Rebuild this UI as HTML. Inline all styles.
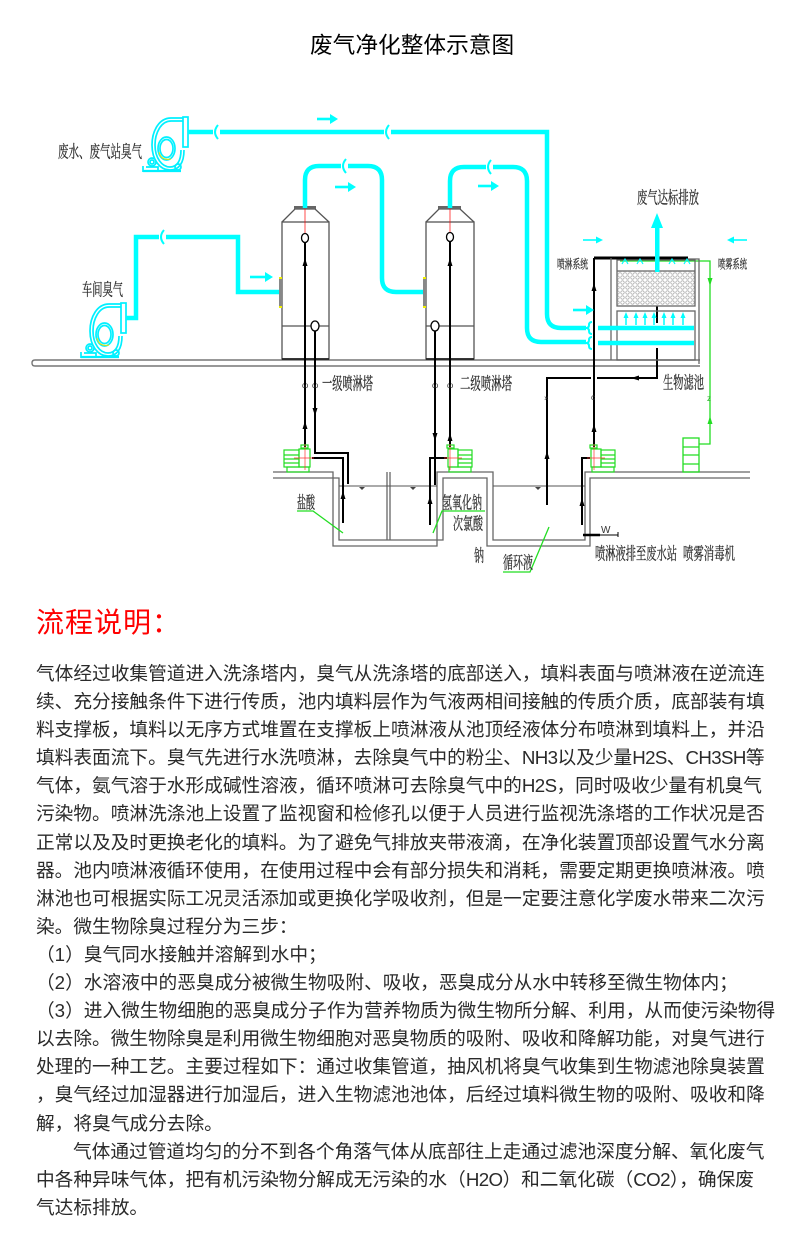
<!DOCTYPE html>
<html><head><meta charset="utf-8">
<style>
html,body{margin:0;padding:0;background:#fff;}
body{width:800px;height:1252px;position:relative;overflow:hidden;}
svg{position:absolute;left:0;top:0;}
.title{position:absolute;left:310px;top:31px;line-height:28px;font-size:22.7px;font-family:"Liberation Sans","Noto Sans CJK SC",sans-serif;color:#000;white-space:nowrap;}
.head{position:absolute;left:36px;top:605px;line-height:36px;font-size:28px;font-family:"Liberation Sans","Noto Sans CJK SC",sans-serif;color:#ff0000;white-space:nowrap;letter-spacing:1px;}
.para{position:absolute;left:36px;top:660px;width:760px;font-size:18.7px;line-height:28.1px;font-family:"Liberation Sans","Noto Sans CJK SC",sans-serif;color:#2a2a2a;}
.para div{white-space:nowrap;height:28.1px;}
.para span{font-size:18.7px;letter-spacing:-0.6px;}
</style></head>
<body>
<svg width="800" height="600" viewBox="0 0 800 600">
<defs>
<pattern id="pk" width="5" height="5" patternUnits="userSpaceOnUse"><circle cx="2.5" cy="2.5" r="1.7" fill="none" stroke="#999" stroke-width="0.6"/></pattern>
</defs>

<!-- floor -->
<path d="M700 360 H35 Q32 360 32 363 Q32 366 35 366 H700" fill="none" stroke="#777" stroke-width="1.4"/>

<!-- pits -->
<g fill="none" stroke="#666" stroke-width="1.3">
<path d="M273 472 H333 V546 H437 V472 H493 V540 H585 V472 H750"/>
<path d="M273 478 H339 V540 H443 V478 H487 V546 H590 V478 H750"/>
<path d="M387 472 V540 M390 472 V540"/>
</g>
<g stroke="#555" stroke-width="1">
<path d="M339 486 H437 M493 486 H585"/>
</g>
<g fill="#444">
<polygon points="359,487 365,487 362,490"/>
<polygon points="410,487 416,487 413,490"/>
<polygon points="535,487 541,487 538,490"/>
</g>

<!-- fans -->
<g>
<g fill="none" stroke="#00f0ff" stroke-width="1.7">
<path d="M183 118 H171 C159 118 152 131 152 145 C152 160 160 170 170 170 C179 170 184 163 184 150"/>
<path d="M183 121 H171 C161 121 155 133 155 145 C155 158 162 167 170 167 C177 167 181 161 181 150"/>
<ellipse cx="166.5" cy="148.5" rx="8.5" ry="11.5"/>
<ellipse cx="166.5" cy="148.5" rx="6.5" ry="9"/>
<rect x="183" y="117" width="5" height="30"/>
<circle cx="152" cy="162" r="4"/>
<circle cx="152" cy="162" r="2"/>
<circle cx="178" cy="167" r="3"/>
<path d="M146 167 H158 V170"/>
<path d="M143 166 V172"/>
</g>
<path d="M143 171 H181" stroke="#00f0ff" stroke-width="2.2"/>
<path d="M159 152 Q161 161 171 159" stroke="#e8e000" stroke-width="1" fill="none"/>
</g>
<g transform="translate(-62,186)">
<g fill="none" stroke="#00f0ff" stroke-width="1.7">
<path d="M183 118 H171 C159 118 152 131 152 145 C152 160 160 170 170 170 C179 170 184 163 184 150"/>
<path d="M183 121 H171 C161 121 155 133 155 145 C155 158 162 167 170 167 C177 167 181 161 181 150"/>
<ellipse cx="166.5" cy="148.5" rx="8.5" ry="11.5"/>
<ellipse cx="166.5" cy="148.5" rx="6.5" ry="9"/>
<rect x="183" y="117" width="5" height="30"/>
<circle cx="152" cy="162" r="4"/>
<circle cx="152" cy="162" r="2"/>
<circle cx="178" cy="167" r="3"/>
<path d="M146 167 H158 V170"/>
<path d="M143 166 V172"/>
</g>
<path d="M143 171 H181" stroke="#00f0ff" stroke-width="2.2"/>
<path d="M159 152 Q161 161 171 159" stroke="#e8e000" stroke-width="1" fill="none"/>
</g>

<!-- towers -->
<g fill="none" stroke="#555" stroke-width="1.3">
<rect x="282" y="222" width="47" height="137"/>
<path d="M282 222 L295 209 H315 L329 222"/>
<path d="M282 326 H329"/>
<rect x="426" y="222" width="48" height="137"/>
<path d="M426 222 L439 209 H460 L474 222"/>
<path d="M426 326 H474"/>
</g>
<path d="M282 359 H329 M426 359 H474" stroke="#222" stroke-width="1.8"/>
<rect x="294" y="206" width="22" height="3" fill="#666"/>
<rect x="438" y="206" width="23" height="3" fill="#666"/>
<path d="M305 209 V234 M450 209 V233" stroke="#f00" stroke-width="0.7"/>
<rect x="279" y="278" width="3" height="29" fill="#888"/>
<rect x="423" y="278" width="3" height="29" fill="#888"/>
<g fill="#ee0"><rect x="279" y="277" width="3" height="2"/><rect x="279" y="306" width="3" height="2"/><rect x="423" y="277" width="3" height="2"/><rect x="423" y="306" width="3" height="2"/></g>

<!-- black water pipes -->
<g fill="none" stroke="#000" stroke-width="2">
<path d="M305 242 V447"/>
<path d="M315 331 V453 H348 V484"/>
<path d="M312 458 H343 V523"/>
<path d="M450 241 V447"/>
<path d="M435 331 V485"/>
<path d="M447 458 H430 V525"/>
<path d="M657 348 V378 H547 V505"/>
<path d="M590 458 H582 V525"/>
<path d="M657 306 V323"/>
</g>
<rect x="591" y="374" width="6" height="8" fill="#fff"/>
<path d="M594 447 V258" stroke="#000" stroke-width="2"/>
<path d="M594 258 H688" stroke="#000" stroke-width="3"/>
<path d="M583 535 H600" stroke="#000" stroke-width="2.5"/>
<path d="M600 535 H618 M618 532 V537" stroke="#000" stroke-width="1"/>
<g fill="#fff" stroke="#000" stroke-width="1.3">
<ellipse cx="305" cy="238" rx="3.5" ry="4.5"/>
<ellipse cx="315" cy="326" rx="4" ry="5"/>
<ellipse cx="450" cy="237" rx="3.5" ry="4.5"/>
<ellipse cx="435" cy="326" rx="4" ry="5"/>
</g>
<!-- black arrowheads -->
<g fill="#000">
<polygon points="302.5,266 305,258 307.5,266"/>
<polygon points="302.5,429 305,421 307.5,429"/>
<polygon points="312.5,408 315,416 317.5,408"/>
<polygon points="340.5,499 343,491 345.5,499"/>
<polygon points="447.5,266 450,258 452.5,266"/>
<polygon points="447.5,441 450,433 452.5,441"/>
<polygon points="432.5,433 435,441 437.5,433"/>
<polygon points="427.5,504 430,496 432.5,504"/>
<polygon points="544.5,459 547,451 549.5,459"/>
<polygon points="579.5,506 582,498 584.5,506"/>
<polygon points="591.5,432 594,424 596.5,432"/>
<polygon points="591.5,291 594,283 596.5,291"/>
<polygon points="639,375.5 631,378 639,380.5"/>
</g>
<g font-family="Liberation Sans,sans-serif" fill="#333" font-size="8">
<text x="302" y="388">ω</text><text x="312" y="388">ω</text>
<text x="432" y="388">ω</text><text x="447" y="388">ω</text>
<text x="544" y="401">×</text><text x="591" y="400">c</text>
<text x="601" y="533" font-size="10">W</text>
</g>

<!-- pumps -->
<g fill="none" stroke="#22dd22" stroke-width="1.2">
<rect x="284" y="450" width="15" height="17"/><path d="M284 455 H299 M284 459 H299 M284 463 H299"/>
<rect x="299" y="449" width="11" height="18"/><rect x="287" y="467" width="22" height="5"/><rect x="301" y="445" width="7" height="3"/>
<rect x="458" y="450" width="14" height="17"/><path d="M458 455 H472 M458 459 H472 M458 463 H472"/>
<rect x="448" y="449" width="10" height="18"/><rect x="449" y="467" width="22" height="5"/><rect x="447" y="445" width="7" height="3"/>
<rect x="601" y="450" width="14" height="17"/><path d="M601 455 H615 M601 459 H615 M601 463 H615"/>
<rect x="591" y="449" width="10" height="18"/><rect x="592" y="467" width="22" height="5"/><rect x="590" y="445" width="7" height="3"/>
</g>
<g stroke="#f33" stroke-width="0.7">
<path d="M294 458 H314 M305 444 V470"/>
<path d="M444 458 H462 M450 444 V470"/>
<path d="M587 458 H605 M594 444 V470"/>
</g>

<!-- humidifier + green line -->
<g fill="none" stroke="#22dd22" stroke-width="1.3">
<rect x="683" y="438" width="16" height="34"/>
<path d="M683 447 H699 M683 455 H699 M683 464 H699"/>
<path d="M699 444 H710 V261 H620"/>
<path d="M297 511 H313 L343 533"/>
<path d="M485 511 H442 L433 533"/>
<path d="M503 572 H530 L549 527"/>
</g>
<g fill="#22dd22">
<polygon points="707.5,424 710,416 712.5,424"/>
<polygon points="707.5,278 710,286 712.5,278"/>
</g>
<text x="707" y="401" font-family="Liberation Sans,sans-serif" font-size="8" fill="#22aa22">z</text>

<!-- biofilter -->
<g fill="none" stroke="#666" stroke-width="1.3">
<path d="M611 258 V360"/>
<path d="M688 259 H699 V364"/>
<rect x="617" y="260" width="78" height="46"/>
<path d="M617 271 H695"/>
<rect x="617" y="311" width="78" height="49"/>
</g>
<rect x="617.5" y="271.5" width="77" height="34" fill="url(#pk)"/>

<!-- cyan pipes -->
<g fill="none" stroke="#00ffff" stroke-width="4.5">
<path d="M188 132 H547 V314 Q547 328 561 328 H586"/>
<path d="M305 208 V180 Q305 166 319 166 H368 Q382 166 382 180 V278 Q382 292 396 292 H423"/>
<path d="M450 208 V181 Q450 167 464 167 H513 Q527 167 527 181 V328 Q527 342 541 342 H586"/>
<path d="M126 318 H136 V237 H238 V292 H279"/>
<path d="M598 328 H694 M598 343 H694"/>
</g>
<!-- couplings -->
<g fill="#fff">
<rect x="213" y="127" width="7" height="10"/>
<rect x="384" y="127" width="7" height="10"/>
<rect x="159" y="232" width="7" height="10"/>
<rect x="341" y="161" width="7" height="10"/>
<rect x="486" y="162" width="7" height="10"/>
</g>
<g fill="none" stroke="#00ffff" stroke-width="2">
<path d="M218 125 Q212 132 218 139"/>
<path d="M389 125 Q383 132 389 139"/>
<path d="M164 230 Q158 237 164 244"/>
<path d="M346 159 Q340 166 346 173"/>
<path d="M491 160 Q485 167 491 174"/>
<path d="M592 322 Q589 322 589 325 Q589 328 586 328 Q589 328 589 331 Q589 334 592 334"/>
<path d="M592 337 Q589 337 589 340 Q589 343 586 343 Q589 343 589 346 Q589 349 592 349"/>
</g>

<!-- cyan arrows -->
<g stroke="#00ffff" stroke-width="2.6" fill="none">
<path d="M317 119 H331"/><path d="M335 187 H349"/><path d="M478 186 H492"/><path d="M250 277 H266"/>
<path d="M573 310 H587"/>
<path d="M583 240 H597" stroke-width="1.6"/><path d="M747 240 H733" stroke-width="1.6"/>
</g>
<g fill="#00ffff">
<polygon points="330,114 338,119 330,124"/>
<polygon points="348,182 356,187 348,192"/>
<polygon points="491,181 499,186 491,191"/>
<polygon points="265,272 273,277 265,282"/>
<polygon points="586,305 594,310 586,315"/>
<polygon points="596,236.5 603,240 596,243.5"/>
<polygon points="734,236.5 727,240 734,243.5"/>
<rect x="655" y="226" width="4.5" height="46"/>
<polygon points="651,228 657,213 663,228"/>
</g>
<g stroke="#00ffff" stroke-width="1.5">
<path d="M626 325 V316 M636 325 V316 M645 325 V316 M654 325 V316 M664 325 V316 M673 325 V316 M683 325 V316"/>
</g>
<g fill="#00ffff">
<polygon points="623.5,318 626,312 628.5,318"/><polygon points="633.5,318 636,312 638.5,318"/>
<polygon points="642.5,318 645,312 647.5,318"/><polygon points="651.5,318 654,312 656.5,318"/>
<polygon points="661.5,318 664,312 666.5,318"/><polygon points="670.5,318 673,312 675.5,318"/>
<polygon points="680.5,318 683,312 685.5,318"/>
</g>
<g fill="none" stroke="#00ffff" stroke-width="1.2">
<path d="M622 264 L625 259 L628 264 M637 264 L640 259 L643 264 M669 264 L672 259 L675 264 M684 264 L687 259 L690 264"/>
</g>

<!-- labels -->
<g font-family="Noto Serif CJK SC,Noto Sans CJK SC,serif" fill="#2a2a2a" stroke="#2a2a2a" stroke-width="0.25">
<text x="58" y="157.5" font-size="17" textLength="84" lengthAdjust="spacingAndGlyphs">废水、废气站臭气</text>
<text x="82" y="295.5" font-size="17" textLength="41" lengthAdjust="spacingAndGlyphs">车间臭气</text>
<text x="637" y="203.5" font-size="17" textLength="62" lengthAdjust="spacingAndGlyphs">废气达标排放</text>
<text x="557" y="268.5" font-size="12.5" textLength="31" lengthAdjust="spacingAndGlyphs">喷淋系统</text>
<text x="718" y="268.5" font-size="12.5" textLength="29" lengthAdjust="spacingAndGlyphs">喷雾系统</text>
<text x="322" y="389.5" font-size="17" textLength="51" lengthAdjust="spacingAndGlyphs">一级喷淋塔</text>
<text x="460" y="389.5" font-size="17" textLength="52" lengthAdjust="spacingAndGlyphs">二级喷淋塔</text>
<text x="663" y="388.5" font-size="17" textLength="41" lengthAdjust="spacingAndGlyphs">生物滤池</text>
<text x="297" y="508.5" font-size="17" textLength="18" lengthAdjust="spacingAndGlyphs">盐酸</text>
<text x="442" y="508.5" font-size="17" textLength="40" lengthAdjust="spacingAndGlyphs">氢氧化钠</text>
<text x="453" y="529.5" font-size="17" textLength="30" lengthAdjust="spacingAndGlyphs">次氯酸</text>
<text x="474" y="561.5" font-size="17" textLength="10" lengthAdjust="spacingAndGlyphs">钠</text>
<text x="503" y="568.5" font-size="17" textLength="30" lengthAdjust="spacingAndGlyphs">循环液</text>
<text x="595" y="559.5" font-size="17" textLength="82" lengthAdjust="spacingAndGlyphs">喷淋液排至废水站</text>
<text x="683" y="559.5" font-size="17" textLength="52" lengthAdjust="spacingAndGlyphs">喷雾消毒机</text>
</g>
</svg>

<div class="title">废气净化整体示意图</div>
<div class="head">流程说明：</div>
<div class="para">
<div>气体经过收集管道进入洗涤塔内，臭气从洗涤塔的底部送入，填料表面与喷淋液在逆流连</div>
<div>续、充分接触条件下进行传质，池内填料层作为气液两相间接触的传质介质，底部装有填</div>
<div>料支撑板，填料以无序方式堆置在支撑板上喷淋液从池顶经液体分布喷淋到填料上，并沿</div>
<div>填料表面流下。臭气先进行水洗喷淋，去除臭气中的粉尘、<span>NH3</span>以及少量<span>H2S</span>、<span>CH3SH</span>等</div>
<div>气体，氨气溶于水形成碱性溶液，循环喷淋可去除臭气中的<span>H2S</span>，同时吸收少量有机臭气</div>
<div>污染物。喷淋洗涤池上设置了监视窗和检修孔以便于人员进行监视洗涤塔的工作状况是否</div>
<div>正常以及及时更换老化的填料。为了避免气排放夹带液滴，在净化装置顶部设置气水分离</div>
<div>器。池内喷淋液循环使用，在使用过程中会有部分损失和消耗，需要定期更换喷淋液。喷</div>
<div>淋池也可根据实际工况灵活添加或更换化学吸收剂，但是一定要注意化学废水带来二次污</div>
<div>染。微生物除臭过程分为三步：</div>
<div>（1）臭气同水接触并溶解到水中；</div>
<div>（2）水溶液中的恶臭成分被微生物吸附、吸收，恶臭成分从水中转移至微生物体内；</div>
<div>（3）进入微生物细胞的恶臭成分子作为营养物质为微生物所分解、利用，从而使污染物得</div>
<div>以去除。微生物除臭是利用微生物细胞对恶臭物质的吸附、吸收和降解功能，对臭气进行</div>
<div>处理的一种工艺。主要过程如下：通过收集管道，抽风机将臭气收集到生物滤池除臭装置</div>
<div>，臭气经过加湿器进行加湿后，进入生物滤池池体，后经过填料微生物的吸附、吸收和降</div>
<div>解，将臭气成分去除。</div>
<div style="padding-left:37px">气体通过管道均匀的分不到各个角落气体从底部往上走通过滤池深度分解、氧化废气</div>
<div>中各种异味气体，把有机污染物分解成无污染的水（<span>H2O</span>）和二氧化碳（<span>CO2</span>），确保废</div>
<div>气达标排放。</div>
</div>
</body></html>
